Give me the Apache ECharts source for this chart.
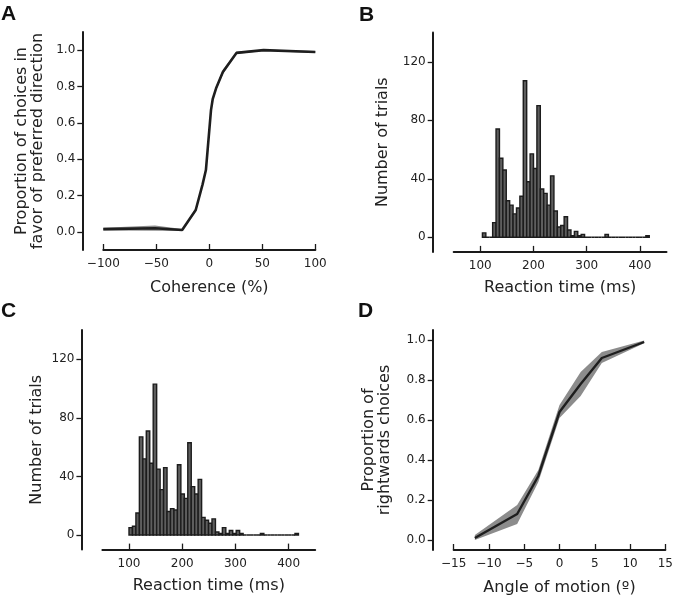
<!DOCTYPE html>
<html><head><meta charset="utf-8">
<script src="https://cdn.jsdelivr.net/npm/echarts@6/dist/echarts.min.js"></script>
<style>html,body{margin:0;padding:0;background:#fff}#c{width:674px;height:595px}</style>
</head><body><div id="c"></div>
<script>
// ---------- Panel A: psychometric curve (coherence) ----------
const cohX    = [-100, -51.2, -25.6, -12.8, -6.4, -3.2, -1.6, 0, 1.6, 3.2, 6.4, 12.8, 25.6, 51.2, 100];
const cohMean = [0.015, 0.02, 0.01, 0.12, 0.26, 0.34, 0.45, 0.56, 0.67, 0.73, 0.79, 0.88, 0.985, 1.0, 0.99];
const cohLow  = [0.008, 0.006, 0.004, 0.11, 0.25, 0.33, 0.43, 0.54, 0.655, 0.72, 0.78, 0.868, 0.979, 0.996, 0.985];
const cohHigh = [0.023, 0.035, 0.016, 0.13, 0.27, 0.35, 0.47, 0.58, 0.685, 0.74, 0.80, 0.892, 0.991, 1.004, 0.995];
const cohTicks = [-100, -50, 0, 50, 100];
const propTicks = [0, 0.2, 0.4, 0.6, 0.8, 1.0];

// ---------- Panel B: reaction time histogram ----------
const rtEdgesB = [104, 110.4, 116.8, 123.2, 129.6, 136, 142.4, 148.8, 155.2, 161.6, 168, 174.4, 180.8, 187.2, 193.6, 200, 206.4, 212.8, 219.2, 225.6, 232, 238.4, 244.8, 251.2, 257.6, 264, 270.4, 276.8, 283.2, 289.6, 296, 302.4, 308.8, 315.2, 321.6, 328, 334.4, 340.8, 347.2, 353.6, 360, 366.4, 372.8, 379.2, 385.6, 392, 398.4, 404.8, 411.2, 417.6];
const rtCountsB = [3, 0, 0, 10, 74, 54, 46, 25, 22, 16, 20, 28, 107, 38, 57, 47, 90, 33, 30, 22, 42, 18, 7, 8, 14, 5, 1, 4, 1, 2, 0, 0, 0, 0, 0, 0, 2, 0, 0, 0, 0, 0, 0, 0, 0, 0, 0, 0, 1];

// ---------- Panel C: reaction time histogram ----------
const rtEdgesC = [100, 106.5, 113, 119.5, 126, 132.5, 139, 145.5, 152, 158.5, 165, 171.5, 178, 184.5, 191, 197.5, 204, 210.5, 217, 223.5, 230, 236.5, 243, 249.5, 256, 262.5, 269, 275.5, 282, 288.5, 295, 301.5, 308, 314.5, 321, 327.5, 334, 340.5, 347, 353.5, 360, 366.5, 373, 379.5, 386, 392.5, 399, 405.5, 412, 418.5];
const rtCountsC = [5, 6, 15, 67, 52, 71, 49, 103, 45, 31, 46, 16, 18, 17, 48, 28, 25, 63, 33, 28, 38, 12, 10, 8, 11, 2, 1, 5, 1, 3, 1, 3, 1, 0, 0, 0, 0, 0, 1, 0, 0, 0, 0, 0, 0, 0, 0, 0, 1];
const rtTicks = [100, 200, 300, 400];
const countTicks = [0, 40, 80, 120];

// ---------- Panel D: psychometric curve (angle) ----------
const angleX    = [-12, -6, -3, 0, 3, 6, 12];
const angleMean = [0.01, 0.13, 0.32, 0.64, 0.78, 0.91, 0.99];
const angleLow  = [0.0, 0.08, 0.29, 0.61, 0.72, 0.885, 0.984];
const angleHigh = [0.025, 0.175, 0.35, 0.675, 0.84, 0.94, 0.997];
const angleTicks = [-15, -10, -5, 0, 5, 10, 15];

const FONT = 'DejaVu Sans';
const INK = '#1a1a1a';
const minus = v => String(v).replace('-', '\u2212');

function xAxisCfg(gridIndex, min, max, name, extra) {
  return Object.assign({
    type: 'value', gridIndex, min, max,
    name, nameLocation: 'middle', nameGap: 29,
    nameTextStyle: { fontFamily: FONT, fontSize: 16, color: '#222' },
    axisLine: { show: true, onZero: false, lineStyle: { color: INK, width: 2 } },
    axisTick: { show: true, inside: true, length: 6, lineStyle: { color: INK, width: 1.3 } },
    axisLabel: { fontFamily: FONT, fontSize: 12, color: '#222', margin: 8, formatter: minus },
    splitLine: { show: false }
  }, extra);
}
function yAxisCfg(gridIndex, min, max, name, nameGap, ticks, fmt) {
  return {
    type: 'value', gridIndex, min, max, offset: 21,
    name, nameLocation: 'middle', nameRotate: 90, nameGap,
    nameTextStyle: { fontFamily: FONT, fontSize: 16, color: '#222', lineHeight: 16 },
    axisLine: { show: true, onZero: false, lineStyle: { color: INK, width: 2 } },
    axisTick: { show: true, length: 5, customValues: ticks, lineStyle: { color: INK, width: 1.3 } },
    axisLabel: { fontFamily: FONT, fontSize: 12, color: '#222', margin: 7, customValues: ticks, formatter: fmt },
    splitLine: { show: false }
  };
}

function bandRender(xs, lo, hi, color) {
  return function (params, api) {
    const pts = [];
    for (let i = 0; i < xs.length; i++) pts.push(api.coord([xs[i], hi[i]]));
    for (let i = xs.length - 1; i >= 0; i--) pts.push(api.coord([xs[i], lo[i]]));
    return { type: 'polygon', shape: { points: pts }, style: { fill: color } };
  };
}
function histRender(edges, counts) {
  return function (params, api) {
    const i = params.dataIndex;
    const p0 = api.coord([edges[i], counts[i]]);
    const p1 = api.coord([edges[i + 1], 0]);
    return {
      type: 'rect',
      shape: { x: p0[0], y: p0[1], width: p1[0] - p0[0], height: p1[1] - p0[1] },
      style: { fill: '#5e5e5e', stroke: '#1c1c1c', lineWidth: 1.4 }
    };
  };
}

const chart = echarts.init(document.getElementById('c'), null, { renderer: 'canvas', devicePixelRatio: 1 });
const option = {
  animation: false,
  backgroundColor: '#fff',
  grid: [
    { left: 103.3, top: 32, width: 212, height: 218, containLabel: false, outerBoundsMode: 'none' },
    { left: 453.7, top: 32.5, width: 212.8, height: 219.4, containLabel: false, outerBoundsMode: 'none' },
    { left: 102.4, top: 330, width: 212.8, height: 219.6, containLabel: false, outerBoundsMode: 'none' },
    { left: 453.7, top: 330, width: 211.6, height: 220, containLabel: false, outerBoundsMode: 'none' }
  ],
  xAxis: [
    xAxisCfg(0, -100, 100, 'Coherence (%)', { interval: 50, nameGap: 30 }),
    xAxisCfg(1, 50, 450, 'Reaction time (ms)', {
      nameGap: 28,
      axisTick: { show: true, inside: true, length: 6, customValues: rtTicks, lineStyle: { color: INK, width: 1.3 } },
      axisLabel: { fontFamily: FONT, fontSize: 12, color: '#222', margin: 8, customValues: rtTicks }
    }),
    xAxisCfg(2, 50, 450, 'Reaction time (ms)', {
      nameGap: 28,
      axisTick: { show: true, inside: true, length: 6, customValues: rtTicks, lineStyle: { color: INK, width: 1.3 } },
      axisLabel: { fontFamily: FONT, fontSize: 12, color: '#222', margin: 8, customValues: rtTicks }
    }),
    xAxisCfg(3, -15, 15, 'Angle of motion (\u00BA)', { interval: 5, nameGap: 30 })
  ],
  yAxis: [
    yAxisCfg(0, -0.1, 1.1, 'Proportion of choices in\nfavor of preferred direction', 36, propTicks, v => v.toFixed(1)),
    yAxisCfg(1, -10, 140, 'Number of trials', 42, countTicks, v => String(v)),
    yAxisCfg(2, -10, 140, 'Number of trials', 37, countTicks, v => String(v)),
    yAxisCfg(3, -0.05, 1.05, 'Proportion of\nrightwards choices', 40, propTicks, v => v.toFixed(1))
  ],
  graphic: [
    { type: 'text', left: 1, top: 4, style: { text: 'A', font: 'bold 21px "Liberation Sans"', fill: '#111' } },
    { type: 'text', left: 359, top: 5, style: { text: 'B', font: 'bold 21px "Liberation Sans"', fill: '#111' } },
    { type: 'text', left: 1, top: 301, style: { text: 'C', font: 'bold 21px "Liberation Sans"', fill: '#111' } },
    { type: 'text', left: 358, top: 301, style: { text: 'D', font: 'bold 21px "Liberation Sans"', fill: '#111' } }
  ],
  series: [
    { type: 'custom', xAxisIndex: 0, yAxisIndex: 0, data: [[0, 0]], renderItem: bandRender(cohX, cohLow, cohHigh, '#8c8c8c'), silent: true, z: 1 },
    { type: 'line', xAxisIndex: 0, yAxisIndex: 0, data: cohX.map((x, i) => [x, cohMean[i]]), showSymbol: false, lineStyle: { color: '#1e1e1e', width: 2.6 }, z: 2 },
    { type: 'custom', xAxisIndex: 1, yAxisIndex: 1, data: rtCountsB.map((c, i) => [rtEdgesB[i], c]), encode: { x: 0, y: 1 }, renderItem: histRender(rtEdgesB, rtCountsB) },
    { type: 'custom', xAxisIndex: 2, yAxisIndex: 2, data: rtCountsC.map((c, i) => [rtEdgesC[i], c]), encode: { x: 0, y: 1 }, renderItem: histRender(rtEdgesC, rtCountsC) },
    { type: 'custom', xAxisIndex: 3, yAxisIndex: 3, data: [[0, 0]], renderItem: bandRender(angleX, angleLow, angleHigh, '#8c8c8c'), silent: true, z: 1 },
    { type: 'line', xAxisIndex: 3, yAxisIndex: 3, data: angleX.map((x, i) => [x, angleMean[i]]), showSymbol: false, lineStyle: { color: '#1e1e1e', width: 2.4 }, z: 2 }
  ]
};
chart.setOption(option);
</script>
</body></html>
